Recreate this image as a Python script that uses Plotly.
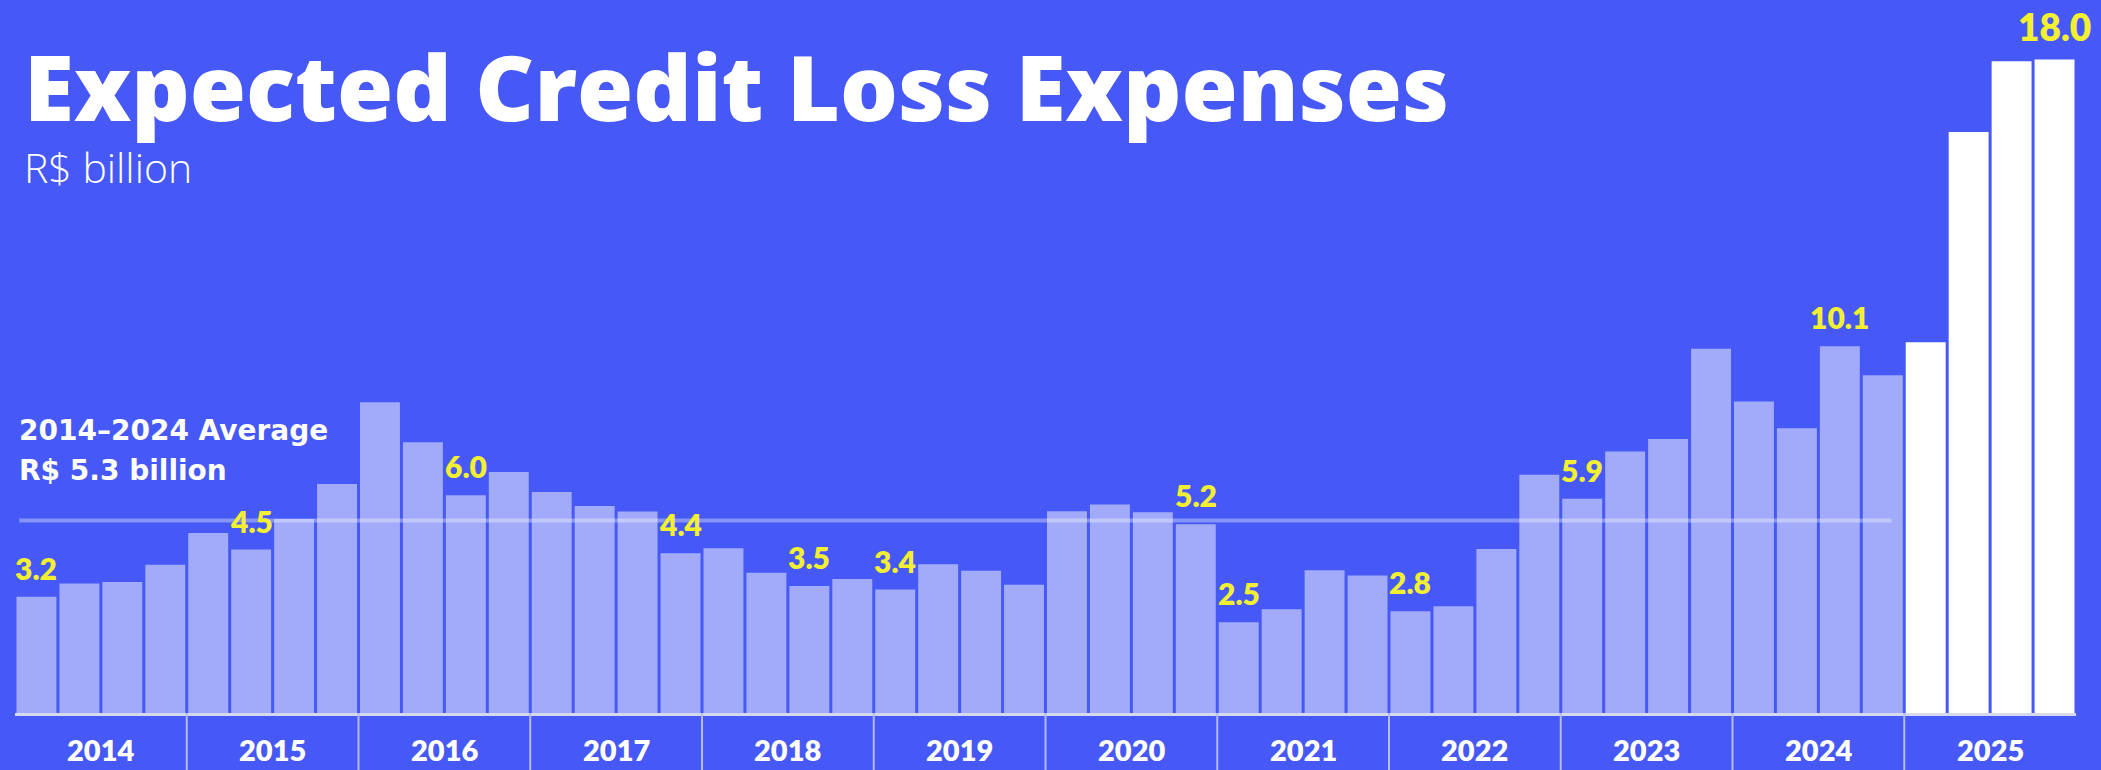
import plotly.graph_objects as go

# ---------------- data ----------------
YEARS = ["2014", "2015", "2016", "2017", "2018", "2019",
         "2020", "2021", "2022", "2023", "2024", "2025"]
QUARTERS = ["1Q", "2Q", "3Q", "4Q"]
CATEGORIES = [q + y[2:] for y in YEARS for q in QUARTERS]

VALUES = [
    3.2, 3.57, 3.61, 4.08,     # 2014
    4.96, 4.5, 5.34, 6.31,     # 2015
    8.56, 7.46, 6.0, 6.64,     # 2016
    6.09, 5.70, 5.55, 4.4,     # 2017
    4.54, 3.86, 3.5, 3.69,     # 2018
    3.4, 4.10, 3.92, 3.53,     # 2019
    5.56, 5.74, 5.53, 5.2,     # 2020
    2.5, 2.86, 3.93, 3.79,     # 2021
    2.8, 2.94, 4.52, 6.56,     # 2022
    5.9, 7.20, 7.55, 10.03,    # 2023
    8.58, 7.84, 10.1, 9.30,    # 2024
    10.21, 16.0, 17.95, 18.0,  # 2025
]
LABELED = ["1Q14", "2Q15", "3Q16", "4Q17", "3Q18", "1Q19",
           "4Q20", "1Q21", "1Q22", "1Q23", "3Q24", "4Q25"]
HIGHLIGHT_YEAR = "2025"
AVERAGE = 5.3
AVERAGE_LINES = ["2014–2024 Average", "R$ 5.3 billion"]
TITLE = "Expected Credit Loss Expenses"
SUBTITLE = "R$ billion"

# ---------------- style ----------------
BG = "#4659F6"
BAR_LIGHT = "#A2ABF9"
BAR_WHITE = "#FFFFFF"
YELLOW = "#F3F032"
W, H = 2101, 770
ML, MR, MT, MB = 15, 25, 5, 57


def px_x(px):
    return (px - ML) / (W - ML - MR)


def px_y(py):
    return (H - MB - py) / (H - MT - MB)


colors = [BAR_WHITE if c.endswith(HIGHLIGHT_YEAR[2:]) else BAR_LIGHT for c in CATEGORIES]

fig = go.Figure(go.Bar(
    x=CATEGORIES, y=VALUES, marker=dict(color=colors, line=dict(width=0)),
    hoverinfo="x+y",
))

annotations = []
# title / subtitle
annotations.append(dict(text=TITLE, xref="paper", yref="paper", x=px_x(22), y=px_y(86),
                        xanchor="left", yanchor="middle", showarrow=False,
                        font=dict(family="Open Sans", size=91, color="white", weight=800)))
annotations.append(dict(text=SUBTITLE, xref="paper", yref="paper", x=px_x(22), y=px_y(167),
                        xanchor="left", yanchor="middle", showarrow=False,
                        font=dict(family="Open Sans", size=41, color="white", weight=300)))
# average annotation
for i, line in enumerate(AVERAGE_LINES):
    annotations.append(dict(text=line, xref="paper", yref="paper", x=px_x(17), y=px_y(430 + 40 * i),
                            xanchor="left", yanchor="middle", showarrow=False,
                            font=dict(family="DejaVu Sans", size=28, color="white", weight=700)))
# value labels
for c, v in zip(CATEGORIES, VALUES):
    if c in LABELED:
        big = c.endswith(HIGHLIGHT_YEAR[2:])
        annotations.append(dict(text=f"{v:.1f}", x=c, y=v, xref="x", yref="y",
                                xanchor="center", yanchor="middle", showarrow=False,
                                yshift=33 if big else 29,
                                font=dict(family="Lato", size=37 if big else 30,
                                          color=YELLOW, weight=800)))
# year labels
for k, y in enumerate(YEARS):
    annotations.append(dict(text=y, x=4 * k + 1.5, y=px_y(749), xref="x", yref="paper",
                            xanchor="center", yanchor="middle", showarrow=False,
                            font=dict(family="Lato", size=29, color="white", weight=800)))

shapes = []
for k in range(1, len(YEARS)):
    shapes.append(dict(type="line", xref="x", yref="paper", x0=4 * k - 0.5, x1=4 * k - 0.5,
                       y0=0, y1=px_y(H), line=dict(color="#B4BBF8", width=2)))
shapes.append(dict(type="line", xref="x", yref="y", x0=-0.4, x1=43.2, y0=AVERAGE, y1=AVERAGE,
                   line=dict(color="rgba(255,255,255,0.35)", width=4), layer="above"))

fig.update_layout(
    width=W, height=H,
    margin=dict(l=ML, r=MR, t=MT, b=MB, pad=0),
    paper_bgcolor=BG, plot_bgcolor=BG,
    bargap=0.07,
    showlegend=False,
    annotations=annotations,
    shapes=shapes,
    xaxis=dict(type="category", range=[-0.5, 47.5], showgrid=False, zeroline=False,
               showticklabels=False, ticks="", showline=True, linecolor="#D6D8EC",
               linewidth=3, fixedrange=True),
    yaxis=dict(range=[0, 19.5], visible=False, fixedrange=True),
)

fig.write_html(
    "out.html",
    config={"displayModeBar": False},
    post_script="document.body.style.margin='0';document.body.style.padding='0';"
                "document.body.style.overflow='hidden';",
)
